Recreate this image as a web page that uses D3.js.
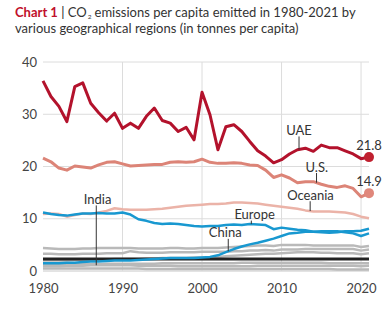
<!DOCTYPE html>
<html>
<head>
<meta charset="utf-8">
<script src="https://cdn.jsdelivr.net/npm/d3@7"></script>
<style>
  body { margin: 0; background: #fff; }
  svg { font-family: Lato, "Noto Sans", sans-serif; }
</style>
</head>
<body>
<div id="chart"></div>
<script>
// years 1980-2021, tonnes per capita
var years = d3.range(1980, 2022);

var uae = [36.4,33.4,31.5,28.6,35.3,36.0,32.1,30.3,28.7,30.2,27.3,28.3,27.3,29.6,31.2,28.8,28.3,26.7,27.5,25.1,
           34.2,29.9,23.2,27.6,28.0,26.7,24.8,23.0,22.0,20.7,21.3,22.4,23.2,23.5,22.9,24.1,23.6,23.6,23.0,22.4,21.5,21.8];
var us = [21.6,20.9,19.7,19.3,20.1,19.9,19.7,20.3,20.8,20.9,20.5,20.1,20.2,20.3,20.4,20.4,20.8,20.9,20.8,20.9,
          21.4,20.8,20.6,20.6,20.7,20.6,20.3,20.2,19.3,17.9,18.4,17.8,16.9,17.1,17.1,16.6,16.2,16.0,16.3,15.8,14.2,14.9];
var oceania = [10.9,11.0,10.9,10.4,10.7,11.0,10.9,11.2,11.5,12.0,11.8,11.7,11.7,11.7,11.8,11.9,12.1,12.3,12.5,12.6,
               12.7,12.8,12.8,12.9,13.1,13.1,13.0,12.9,12.7,12.5,12.3,12.1,11.9,11.6,11.4,11.4,11.4,11.3,11.2,10.9,10.4,10.1];
var europe = [11.2,10.9,10.7,10.6,10.8,11.0,11.0,11.1,11.0,11.0,11.2,10.8,9.9,9.6,9.2,9.0,9.1,9.0,8.8,8.6,
              8.5,8.6,8.6,8.8,8.9,8.8,9.0,8.9,8.8,8.0,8.3,8.1,7.9,7.8,7.5,7.6,7.6,7.6,7.4,7.2,6.7,7.2];
var china = [1.5,1.5,1.5,1.6,1.6,1.7,1.8,1.8,1.9,2.0,2.0,2.0,2.1,2.2,2.3,2.4,2.5,2.5,2.5,2.5,
             2.6,2.7,3.0,3.6,4.2,4.7,5.1,5.4,5.8,6.2,6.7,7.2,7.3,7.5,7.5,7.4,7.3,7.4,7.6,7.6,7.7,8.1];
var india = [0.9,0.9,0.9,1.0,1.0,1.0,1.1,1.1,1.1,1.1,1.1,1.1,1.0,1.0,1.0,1.0,1.0,0.9,0.9,0.9,
             0.9,0.9,0.9,0.9,0.9,0.9,0.9,1.0,1.0,1.0,1.0,1.0,1.0,1.0,1.0,1.0,1.0,1.0,1.0,1.0,0.9,1.0];

// other regions, drawn in grey
var grey1 = [4.4,4.3,4.2,4.2,4.2,4.3,4.3,4.4,4.4,4.4,4.4,4.4,4.3,4.3,4.3,4.3,4.4,4.4,4.3,4.3,
             4.4,4.4,4.4,4.5,4.6,4.7,4.8,4.9,4.9,4.8,5.0,5.0,5.0,5.0,4.9,4.9,4.9,4.9,4.9,4.9,4.6,4.8];
var grey2 = [3.3,3.3,3.2,3.2,3.2,3.3,3.3,3.3,3.4,3.4,3.4,3.8,3.6,3.5,3.5,3.5,3.6,3.6,3.6,3.6,
             3.7,3.7,3.7,3.7,3.8,3.8,3.9,3.9,4.0,3.9,4.1,4.1,4.1,4.2,4.2,4.2,4.2,4.2,4.2,4.2,3.9,4.1];
var grey3 = [2.0,2.0,2.0,2.0,2.1,2.1,2.1,2.2,2.2,2.3,2.3,2.3,2.3,2.4,2.4,2.5,2.5,2.5,2.5,2.6,
             2.6,2.6,2.7,2.8,2.9,3.0,3.1,3.2,3.3,3.3,3.4,3.5,3.6,3.6,3.6,3.5,3.5,3.4,3.4,3.4,3.2,3.4];
var grey4 = [1.2,1.2,1.2,1.2,1.3,1.3,1.3,1.3,1.4,1.4,1.4,1.4,1.4,1.4,1.4,1.5,1.5,1.5,1.5,1.5,
             1.5,1.5,1.5,1.5,1.5,1.6,1.6,1.6,1.6,1.6,1.6,1.6,1.6,1.6,1.6,1.6,1.5,1.5,1.5,1.5,1.5,1.5];
var grey5 = [0.5,0.5,0.5,0.5,0.5,0.5,0.5,0.5,0.5,0.5,0.5,0.5,0.5,0.4,0.4,0.4,0.4,0.4,0.4,0.4,
             0.4,0.4,0.4,0.4,0.4,0.4,0.4,0.4,0.4,0.4,0.4,0.4,0.4,0.4,0.4,0.4,0.4,0.3,0.3,0.3,0.3,0.3];
var refLevel = 2.3;   // flat black line

var yTicks = [0, 10, 20, 30, 40];
var xTicks = [1980, 1990, 2000, 2010, 2020];
var endLabels = ["21.8", "14.9"];

var width = 385, height = 313;
var svg = d3.select("#chart").append("svg")
  .attr("width", width)
  .attr("height", height);

// title - built in pieces so the subscript sits clear of the other text
var t1 = svg.append("text").attr("x", 15).attr("y", 16.5)
  .style("font-size", "13px").attr("fill", "#333");
t1.append("tspan").text("Chart 1").attr("fill", "#c0102c").style("font-weight", "bold");
t1.append("tspan").text(" | ").attr("fill", "#222");
t1.append("tspan").text("CO");
var subX = 15 + t1.node().getComputedTextLength() + 1;
var sub = svg.append("text").attr("x", subX).attr("y", 19)
  .style("font-size", "6.5px").attr("fill", "#333").text("2");
var restX = subX + sub.node().getComputedTextLength() + 3;
svg.append("text").attr("x", restX).attr("y", 16.5)
  .style("font-size", "13px").attr("fill", "#333")
  .text("emissions per capita emitted in 1980-2021 by");
svg.append("text").attr("x", 15).attr("y", 32.5)
  .style("font-size", "13px").attr("fill", "#333")
  .text("various geographical regions (in tonnes per capita)");

var x = d3.scaleLinear().domain([1980, 2021]).range([43, 369]);
var y = d3.scaleLinear().domain([0, 40]).range([271, 62]);

// grid
svg.append("g").selectAll("line").data(yTicks).enter().append("line")
  .attr("x1", 43).attr("x2", 369)
  .attr("y1", function(d) { return y(d); }).attr("y2", function(d) { return y(d); })
  .attr("stroke", function(d) { return d === 0 ? "#c8c8c8" : "#dcdcdc"; })
  .attr("stroke-width", 1);
svg.append("g").selectAll("line").data(xTicks.slice(1)).enter().append("line")
  .attr("x1", function(d) { return x(d); }).attr("x2", function(d) { return x(d); })
  .attr("y1", y(40)).attr("y2", y(0))
  .attr("stroke", "#dcdcdc");

// axes (labels only)
var yAxis = svg.append("g").attr("transform", "translate(37,0)")
  .call(d3.axisLeft(y).tickValues(yTicks).tickSize(0).tickPadding(0));
var xAxis = svg.append("g").attr("transform", "translate(0,284)")
  .call(d3.axisBottom(x).tickValues(xTicks).tickFormat(d3.format("d")).tickSize(0).tickPadding(0));
[yAxis, xAxis].forEach(function(a) {
  a.select(".domain").remove();
  a.selectAll("text").attr("fill", "#444").style("font-size", "13px")
    .style("font-family", "Lato, 'Noto Sans', sans-serif");
});

var line = d3.line()
  .x(function(d, i) { return x(years[i]); })
  .y(function(d) { return y(d); });

function drawSeries(values, color, w) {
  svg.append("path").datum(values)
    .attr("fill", "none").attr("stroke", color)
    .attr("stroke-width", w).attr("stroke-linejoin", "round")
    .attr("d", line);
}

[grey5, grey4, grey3, grey2, grey1, india].forEach(function(s) { drawSeries(s, "#b9b9b9", 2.5); });

svg.append("line")
  .attr("x1", x(1980)).attr("x2", x(2021))
  .attr("y1", y(refLevel)).attr("y2", y(refLevel))
  .attr("stroke", "#222").attr("stroke-width", 3);

drawSeries(oceania, "#ebb3a8", 2.5);
drawSeries(china, "#1898d0", 2.5);
drawSeries(europe, "#1898d0", 2.5);
drawSeries(us, "#dc8477", 3);
drawSeries(uae, "#b3122c", 3);

// end dots + values
var ends = [{v: uae, c: "#c0202f", t: endLabels[0]}, {v: us, c: "#e0877b", t: endLabels[1]}];
ends.forEach(function(e) {
  var last = e.v[e.v.length - 1];
  svg.append("circle").attr("cx", x(2021)).attr("cy", y(last)).attr("r", 5).attr("fill", e.c);
  svg.append("text").attr("x", x(2021)).attr("y", y(last) - 7)
    .attr("text-anchor", "middle").style("font-size", "13px").attr("fill", "#333")
    .text(e.t);
});

// series labels with pointer lines
var notes = [
  {name: "UAE", s: uae, year: 2012.2, labelV: 26.9, dx: 0},
  {name: "U.S.", s: us, year: 2014.4, labelV: 19.9, dx: 0.3},
  {name: "Oceania", s: oceania, year: 2013.6, labelV: 14.5, dx: 0.3},
  {name: "Europe", s: europe, year: 2006.2, labelV: 10.8, dx: 3.3},
  {name: "China", s: china, year: 2003.3, labelV: 7.3, dx: -3},
  {name: "India", s: india, year: 1986.7, labelV: 13.7, dx: 1.3}
];
notes.forEach(function(n) {
  var i = Math.floor(n.year - 1980), f = n.year - 1980 - i;
  var v = n.s[i] + (n.s[i + 1] - n.s[i]) * f;
  var ly = y(n.labelV);
  svg.append("line")
    .attr("x1", x(n.year)).attr("x2", x(n.year))
    .attr("y1", ly + 6).attr("y2", y(v))
    .attr("stroke", "#333").attr("stroke-width", 1);
  svg.append("text").attr("x", x(n.year) + n.dx).attr("y", ly + 4.5)
    .attr("text-anchor", "middle").style("font-size", "13px").attr("fill", "#333")
    .text(n.name);
});
</script>
</body>
</html>
